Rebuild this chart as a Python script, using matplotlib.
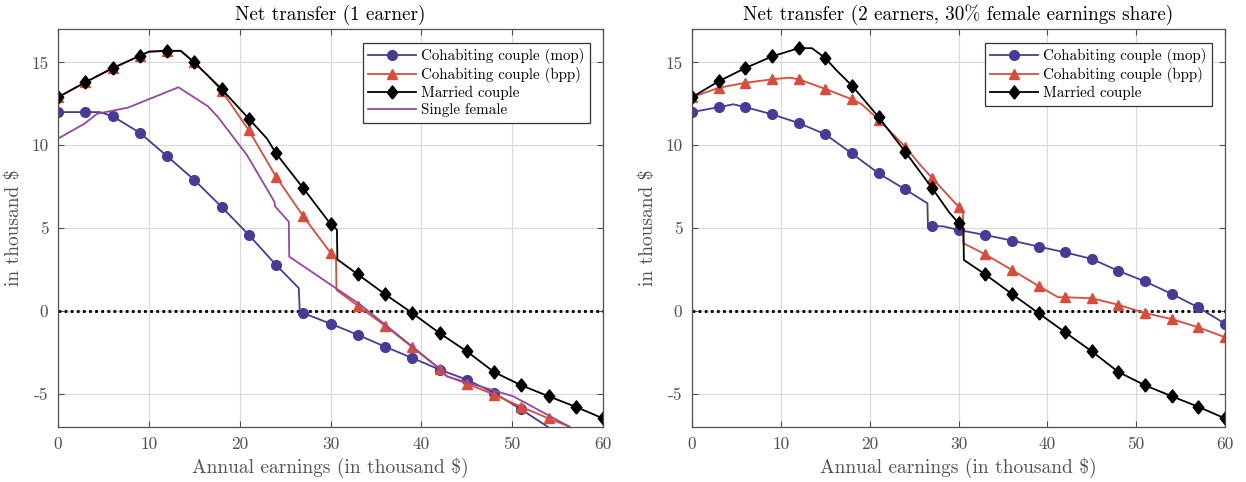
import numpy as np
import matplotlib
matplotlib.use('Agg')
import matplotlib.pyplot as plt

# ---- data (thousand $) ----
# panel 1: one earner
x_mop_1 = [0, 3, 4.6, 6, 9, 12, 15, 18, 21, 24, 26.5, 26.6, 27, 30, 33, 36, 39, 42, 45, 48, 51, 53.9]
y_mop_1 = [12.0, 12.0, 12.0, 11.75, 10.75, 9.34, 7.9, 6.28, 4.58, 2.77, 1.37, 0.06, -0.14, -0.78, -1.45,
           -2.17, -2.85, -3.55, -4.16, -4.96, -5.96, -7.0]

x_bpp_1 = [0, 3, 6, 9, 10, 12, 13.5, 15, 16.5, 18, 21, 24, 27, 30, 30.6, 30.65, 33, 36, 39, 42, 42.8,
           45, 48, 51, 54, 56.3]
y_bpp_1 = [12.9, 13.8, 14.65, 15.4, 15.65, 15.7, 15.7, 15.0, 14.2, 13.3, 10.9, 8.1, 5.7, 3.5, 3.1, 1.26,
           0.3, -0.9, -2.2, -3.5, -3.95, -4.4, -5.06, -5.8, -6.5, -7.0]

x_mar_1 = [0, 3, 6, 9, 10, 12, 13.5, 15, 16.5, 18, 21, 23, 24, 27, 30, 30.7, 30.75, 33, 36, 39, 42, 45,
           48, 51, 54, 57, 60]
y_mar_1 = [12.9, 13.8, 14.65, 15.4, 15.65, 15.7, 15.7, 15.0, 14.2, 13.4, 11.6, 10.4, 9.5, 7.4, 5.24, 4.9,
           3.1, 2.2, 1.0, -0.14, -1.35, -2.45, -3.7, -4.5, -5.16, -5.8, -6.5]

x_sgl_1 = [0, 2.9, 4.3, 7.7, 13.25, 16.5, 17.6, 20.8, 23.8, 23.9, 25.4, 25.45, 33.3, 41.7, 42.8, 50.1, 56.3]
y_sgl_1 = [10.4, 11.3, 11.9, 12.27, 13.5, 12.35, 11.7, 9.4, 6.6, 6.3, 5.38, 3.27, 0.36, -3.36, -3.96,
           -5.16, -7.0]

# panel 2: two earners, 30% female share
x_mop_2 = [0, 3, 4.65, 6, 9, 12, 15, 18, 21, 24, 26.5, 26.55, 27, 28.3, 30, 33, 36, 39, 42, 45, 48, 51,
           54, 57, 60]
y_mop_2 = [12.0, 12.3, 12.47, 12.3, 11.87, 11.34, 10.66, 9.5, 8.3, 7.33, 6.49, 5.12, 5.12, 5.1, 4.88,
           4.58, 4.24, 3.88, 3.53, 3.13, 2.41, 1.77, 1.02, 0.2, -0.78]

x_bpp_2 = [0, 3, 6, 9, 11, 12, 15, 18, 19.1, 21, 24, 25.7, 27, 30, 30.5, 30.55, 33, 36, 39, 41.2, 42,
           45, 48, 51, 54, 57, 60]
y_bpp_2 = [12.9, 13.47, 13.77, 13.98, 14.08, 13.98, 13.4, 12.77, 12.47, 11.55, 9.9, 8.8, 8.03, 6.28,
           6.0, 4.08, 3.41, 2.47, 1.5, 0.82, 0.82, 0.76, 0.36, -0.14, -0.5, -1.0, -1.6]

x_mar_2 = [0, 3, 6, 9, 12, 13.5, 15, 16.3, 18, 21, 24, 27, 28.9, 30, 30.55, 30.6, 33, 36, 39, 42, 45,
           48, 51, 54, 57, 60]
y_mar_2 = [12.9, 13.86, 14.66, 15.36, 15.86, 15.86, 15.26, 14.5, 13.6, 11.7, 9.6, 7.43, 5.98, 5.3, 4.95,
           3.07, 2.2, 1.02, -0.14, -1.3, -2.45, -3.7, -4.5, -5.16, -5.8, -6.5]

titles = ['Net transfer (1 earner)', 'Net transfer (2 earners, 30% female earnings share)']

BLUE = '#463c98'
RED = '#db4b3a'
PURPLE = '#95489e'
GREY = '#505050'
# matlab-like diamond, a bit taller than wide
DIAMOND = [(0, -1), (0.8, 0), (0, 1), (-0.8, 0), (0, -1)]

plt.rcParams['font.family'] = ['cmr10', 'DejaVu Serif']
plt.rcParams['mathtext.fontset'] = 'cm'
plt.rcParams['axes.unicode_minus'] = False
plt.rcParams['axes.formatter.use_mathtext'] = False


def marks(x):
    # markers sit on every 3k$ step
    idx = []
    seen = set()
    for i, v in enumerate(x):
        r = round(v / 3)
        if abs(v - 3 * r) < 1e-9 and r not in seen:
            idx.append(i)
            seen.add(r)
    return idx


def series(ax, x, y, color, marker, ms, label):
    ax.plot(x, y, color=color, lw=1.3, marker=marker, markersize=ms,
            markevery=marks(x), markerfacecolor=color, markeredgecolor=color,
            label=label)


def style(ax, title):
    ax.set_xlim(0, 60)
    ax.set_ylim(-7, 17)
    ax.set_xticks(np.arange(0, 61, 10))
    ax.set_yticks([-5, 0, 5, 10, 15])
    ax.axhline(0, color='black', lw=2, ls=(0, (1, 1.2)), zorder=1.5)
    ax.grid(True, color='#d8d8d8', lw=0.8)
    ax.set_axisbelow(True)
    ax.tick_params(direction='in', top=True, right=True, length=4, width=0.8,
                   colors=GREY, labelsize=12.5, pad=7)
    for s in ax.spines.values():
        s.set_color(GREY)
        s.set_linewidth(0.9)
    ax.set_title(title, fontsize=13.8, color='black', pad=7)
    ax.set_xlabel('Annual earnings (in thousand $)', fontsize=14, color=GREY, labelpad=4)
    ax.set_ylabel('in thousand $', fontsize=14, color=GREY, labelpad=6)
    leg = ax.legend(loc='upper right', fontsize=10.8, handlelength=3.2, borderaxespad=0.9,
                    fancybox=False, framealpha=1, edgecolor='#333333', labelspacing=0.2,
                    borderpad=0.35, handletextpad=0.3)
    leg.get_frame().set_linewidth(0.9)


def main():
    fig = plt.figure(figsize=(12.46, 4.82), dpi=100)
    ax1 = fig.add_axes([0.0466, 0.1147, 0.4374, 0.8245])
    ax2 = fig.add_axes([0.5554, 0.1147, 0.4278, 0.8245])

    series(ax1, x_mop_1, y_mop_1, BLUE, 'o', 7, 'Cohabiting couple (mop)')
    series(ax1, x_bpp_1, y_bpp_1, RED, '^', 7.5, 'Cohabiting couple (bpp)')
    series(ax1, x_mar_1, y_mar_1, 'black', DIAMOND, 9.5, 'Married couple')
    ax1.plot(x_sgl_1, y_sgl_1, color=PURPLE, lw=1.3, label='Single female')
    style(ax1, titles[0])

    series(ax2, x_mop_2, y_mop_2, BLUE, 'o', 7, 'Cohabiting couple (mop)')
    series(ax2, x_bpp_2, y_bpp_2, RED, '^', 7.5, 'Cohabiting couple (bpp)')
    series(ax2, x_mar_2, y_mar_2, 'black', DIAMOND, 9.5, 'Married couple')
    style(ax2, titles[1])

    fig.savefig('out.png', dpi=100)


if __name__ == '__main__':
    main()
